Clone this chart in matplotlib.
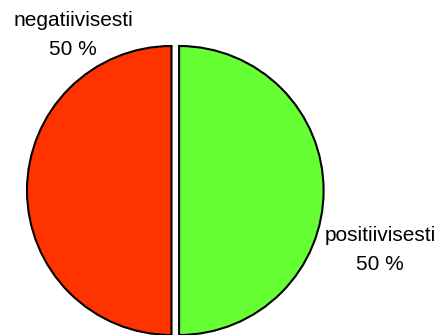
import matplotlib
matplotlib.use("Agg")
import matplotlib.pyplot as plt

labels = ["negatiivisesti", "positiivisesti"]
values = [50, 50]
colors = ["#FF3300", "#66FF33"]

W, H = 440, 335
fig = plt.figure(figsize=(W / 100, H / 100), dpi=100)
ax = fig.add_axes([0, 0, 1, 1])

# explode offsets are in data units here (pixel-sized axes)
radius = 144.5
center = (175.3, 190.5)
ax.pie(values, colors=colors, startangle=90, counterclock=True,
       radius=radius, center=center, explode=[3.8, 3.8],
       wedgeprops=dict(edgecolor="black", linewidth=1.5))

ax.set_xlim(0, W)
ax.set_ylim(H, 0)
ax.set_aspect("equal")
ax.axis("off")

total = sum(values)
label_pos = [(73, 35), (380, 250)]
for lab, v, (x, y) in zip(labels, values, label_pos):
    ax.text(x, y, f"{lab}\n{v / total * 100:.0f} %", ha="center", va="center",
            fontsize=15, family="Liberation Sans", linespacing=1.65)

fig.savefig("out.png", dpi=100)
